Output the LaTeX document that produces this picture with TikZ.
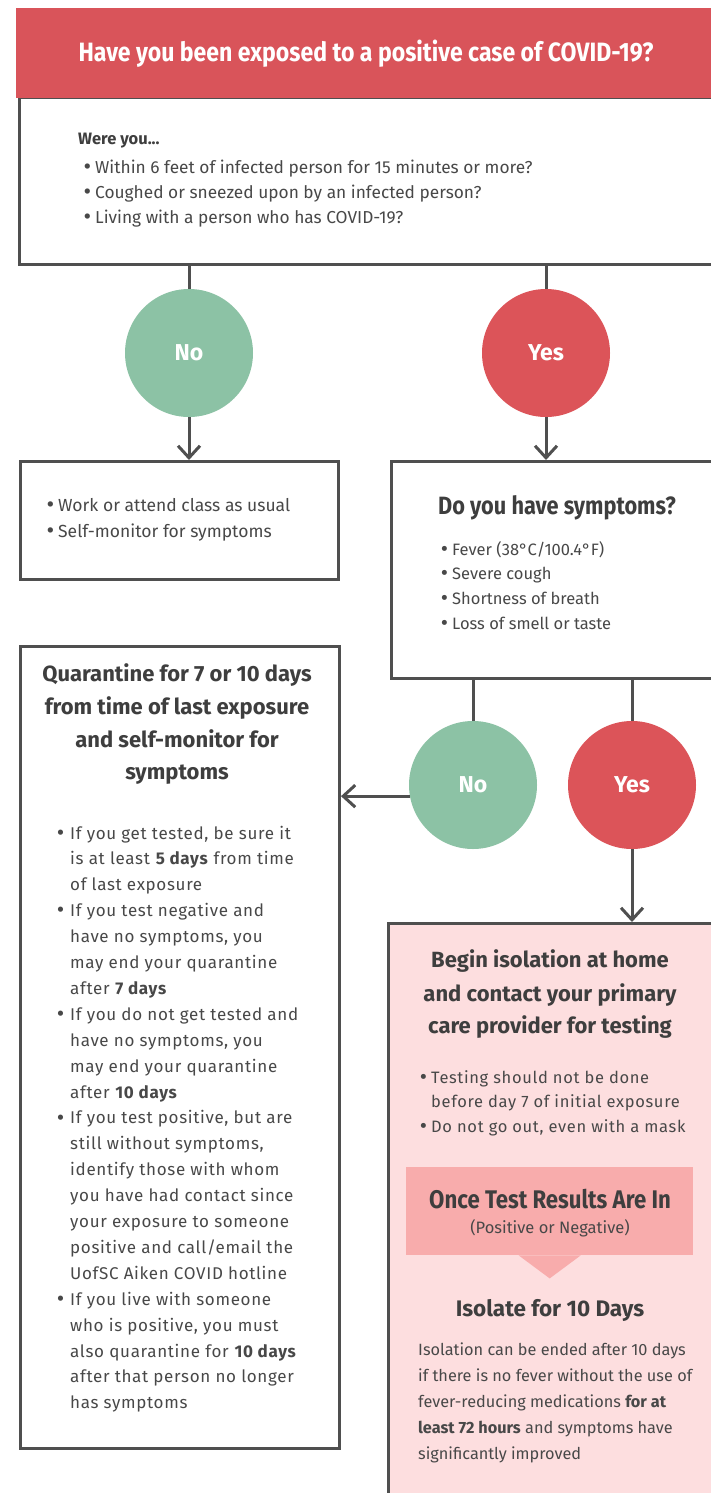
\documentclass[tikz,border=0pt]{standalone}
\usepackage{fontspec}
\usepackage{graphicx}
\setmainfont{Fira Sans}
\newfontfamily\cond[FakeStretch=0.87]{Fira Sans}
\newfontfamily\spaced[LetterSpace=4]{Fira Sans}
\usetikzlibrary{arrows.meta,calc}
\definecolor{hdrred}{HTML}{D9545A}
\definecolor{yesred}{HTML}{DC5459}
\definecolor{nogreen}{HTML}{8CC2A5}
\definecolor{linegray}{HTML}{4F4F4F}
\definecolor{txtgray}{HTML}{484848}
\definecolor{headgray}{HTML}{3E3E3E}
\definecolor{pinkbg}{HTML}{FDDEDF}
\definecolor{calloutpink}{HTML}{F8ACAC}
\newcommand\topfnt{\fontsize{17.3}{20}\selectfont}
\newcommand\smfnt{\fontsize{16.5}{19}\selectfont}
\newcommand\bodyfnt{\spaced\fontsize{17}{20}\selectfont}
\newcommand\headfnt{\bfseries\fontsize{22}{26}\selectfont}
\newcommand\condhead{\cond\bfseries\fontsize{25.5}{30}\selectfont}
\newcommand\bul[1]{\llap{\raisebox{-1.2pt}{\scalebox{1.35}{•}}\hspace{#1}}}
\tikzset{
  box/.style={draw=linegray, line width=3pt, fill=white, inner sep=0pt, anchor=north west},
  circ/.style={circle, minimum size=128pt, inner sep=0pt, text=white, font=\bfseries\fontsize{23}{26}\selectfont},
  conn/.style={draw=linegray, line width=3pt},
  arr/.style={conn, -{Straight Barb[length=12pt,width=22pt]}},
  txtl/.style={anchor=base west, inner sep=0pt, text=txtgray},
  txtc/.style={anchor=base, inner sep=0pt, text=headgray},
}
\begin{document}
\begin{tikzpicture}[x=1pt,y=-1pt]
\useasboundingbox (0,0) rectangle (711,1493);
\clip (0,0) rectangle (711,1493);
% top box and header
\node[box, minimum width=705pt, minimum height=167pt] (top) at (17.5,96) {};
\node[fill=hdrred, anchor=north west, minimum width=700pt, minimum height=90pt, inner sep=0pt] (hdr) at (16,8) {};
\node[anchor=base, inner sep=0pt, text=white, font=\cond\bfseries\fontsize{26.5}{30}\selectfont] (hdrtxt) at (366,62) {Have you been exposed to a positive case of COVID-19?};
\node[txtl, text=headgray, font=\bfseries\fontsize{16.5}{19}\selectfont] (were) at (78,145) {Were you...};
\node[txtl, font=\topfnt] (t1) at (95,173) {\bul{4pt}Within 6 feet of infected person for 15 minutes or more?};
\node[txtl, font=\topfnt] (t2) at (95,198) {\bul{4pt}Coughed or sneezed upon by an infected person?};
\node[txtl, font=\topfnt] (t3) at (95,223) {\bul{4pt}Living with a person who has COVID-19?};
% first decision
\node[circ, fill=nogreen] (no1) at (189,353) {No};
\node[circ, fill=yesred] (yes1) at (546,353) {Yes};
\draw[conn] (top.south -| no1) -- (no1.north);
\draw[conn] (top.south -| yes1) -- (yes1.north);
% left box
\node[box, minimum width=318pt, minimum height=118pt] (lbox) at (19,460) {};
\draw[arr] (no1.south) -- (no1.south |- lbox.north);
\node[txtl, font=\fontsize{17.5}{20}\selectfont] (l1) at (58,511) {\bul{4pt}Work or attend class as usual};
\node[txtl, font=\fontsize{17.5}{20}\selectfont] (l2) at (58,537) {\bul{4pt}Self-monitor for symptoms};
% symptoms box
\node[box, minimum width=340pt, minimum height=217pt] (sym) at (390,460) {};
\draw[arr] (yes1.south) -- (yes1.south |- sym.north);
\node[txtc, font=\cond\bfseries\fontsize{25}{30}\selectfont] (symh) at (557,514) {Do you have symptoms?};
\node[txtl, font=\smfnt] (s1) at (452,555) {\bul{4pt}Fever (38°C/100.4°F)};
\node[txtl, font=\smfnt] (s2) at (452,579) {\bul{4pt}Severe cough};
\node[txtl, font=\smfnt] (s3) at (452,604) {\bul{4pt}Shortness of breath};
\node[txtl, font=\smfnt] (s4) at (452,629) {\bul{4pt}Loss of smell or taste};
% second decision
\node[circ, fill=nogreen] (no2) at (473,785) {No};
\node[circ, fill=yesred] (yes2) at (632,785) {Yes};
\draw[conn] (sym.south -| no2) -- (no2.north);
\draw[conn] (sym.south -| yes2) -- (yes2.north);
% quarantine box
\node[box, minimum width=319pt, minimum height=802pt] (quar) at (19,645) {};
\draw[arr] (no2.190) -- (no2.190 -| quar.east);
\node[txtc, font=\headfnt] (qh1) at (177,681) {Quarantine for 7 or 10 days};
\node[txtc, font=\headfnt] (qh2) at (177,714) {from time of last exposure};
\node[txtc, font=\headfnt] (qh3) at (177,747) {and self-monitor for};
\node[txtc, font=\headfnt] (qh4) at (177,779) {symptoms};
\foreach \t [count=\i] in {
  {\bul{6pt}If you get tested, be sure it},
  {is at least \textbf{5 days} from time},
  {of last exposure},
  {\bul{6pt}If you test negative and},
  {have no symptoms, you},
  {may end your quarantine},
  {after \textbf{7 days}},
  {\bul{6pt}If you do not get tested and},
  {have no symptoms, you},
  {may end your quarantine},
  {after \textbf{10 days}},
  {\bul{6pt}If you test positive, but are},
  {still without symptoms,},
  {identify those with whom},
  {you have had contact since},
  {your exposure to someone},
  {positive and call/email the},
  {UofSC Aiken COVID hotline},
  {\bul{6pt}If you live with someone},
  {who is positive, you must},
  {also quarantine for \textbf{10 days}},
  {after that person no longer},
  {has symptoms}}
  \node[txtl, font=\bodyfnt] (q\i) at (70,{839+25.9*(\i-1)}) {\t};
% isolation box
\node[box, fill=pinkbg, minimum width=340pt, minimum height=600pt] (iso) at (387,922) {};
\draw[arr] (yes2.south) -- (yes2.south |- iso.north);
\node[txtc, font=\headfnt] (ih1) at (550,967) {Begin isolation at home};
\node[txtc, font=\headfnt] (ih2) at (550,1001) {and contact your primary};
\node[txtc, font=\headfnt] (ih3) at (550,1033) {care provider for testing};
\node[txtl, font=\spaced\fontsize{16.5}{19}\selectfont] (i1) at (431,1083) {\bul{4pt}Testing should not be done};
\node[txtl, font=\spaced\fontsize{16.5}{19}\selectfont] (i2) at (431,1107) {before day 7 of initial exposure};
\node[txtl, font=\spaced\fontsize{16.5}{19}\selectfont] (i3) at (431,1132) {\bul{4pt}Do not go out, even with a mask};
% callout
\node[fill=calloutpink, anchor=north west, minimum width=287pt, minimum height=88pt, inner sep=0pt] (call) at (406,1167) {};
\fill[calloutpink] ($(call.south)+(-31,0)$) -- ($(call.south)+(31,0)$) -- ($(call.south)+(0,23)$) -- cycle;
\node[txtc, font=\condhead] (ch) at (550,1208) {Once Test Results Are In};
\node[txtc, text=txtgray, font=\smfnt] (cs) at (550,1233) {(Positive or Negative)};
\node[txtc, font=\bfseries\fontsize{22.5}{26}\selectfont] (isoh) at (550,1316) {Isolate for 10 Days};
\node[txtl, font=\fontsize{16.3}{19}\selectfont] (p1) at (418,1355) {Isolation can be ended after 10 days};
\node[txtl, font=\fontsize{16.3}{19}\selectfont] (p2) at (418,1381) {if there is no fever without the use of};
\node[txtl, font=\fontsize{16.3}{19}\selectfont] (p3) at (418,1407) {fever-reducing medications \textbf{for at}};
\node[txtl, font=\fontsize{16.3}{19}\selectfont] (p4) at (418,1433) {\textbf{least 72 hours} and symptoms have};
\node[txtl, font=\fontsize{16.3}{19}\selectfont] (p5) at (418,1459) {significantly improved};
\end{tikzpicture}
\end{document}
